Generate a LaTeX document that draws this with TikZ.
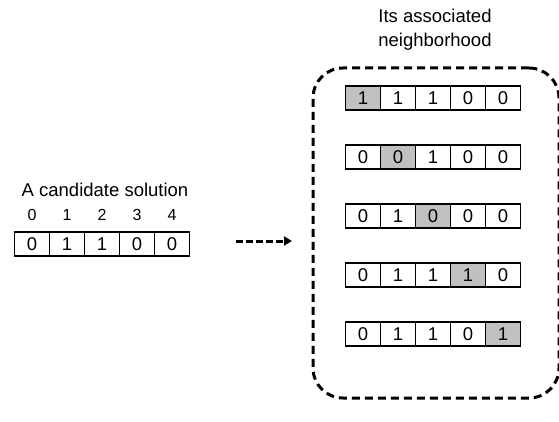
\documentclass[tikz,border=0pt]{standalone}
\usepackage{fontspec}
\setmainfont{Liberation Sans}
\usetikzlibrary{arrows.meta}
\definecolor{hl}{HTML}{C0C0C0}
\tikzset{
  cell/.style={draw, line width=1.8pt, minimum width=35pt, minimum height=24pt, inner sep=0pt, font=\fontsize{18.5}{20}\selectfont},
  hcell/.style={cell, fill=hl},
  label/.style={font=\fontsize{18.5}{24}\selectfont, align=center, inner sep=0pt},
  idx/.style={font=\fontsize{16}{18}\selectfont, inner sep=0pt},
  dashline/.style={line width=3pt, dash pattern=on 8pt off 5pt},
  arrline/.style={line width=3pt, dash pattern=on 6.5pt off 3.5pt},
}
\begin{document}
\begin{tikzpicture}[x=1pt,y=-1pt]
\useasboundingbox (0,0) rectangle (559,422);
% left candidate
\node[label] (cand) at (105,190) {A candidate solution};
\foreach \v [count=\i from 0] in {0,1,1,0,0} {
  \node[cell] (L\i) at (32+35*\i,244) {\v};
  \node[idx] (I\i) at (32+35*\i,215) {\i};
}
% right neighborhood
\node[label] (title) at (435,30) {Its associated\\neighborhood};
\node[draw, dashline, rounded corners=30pt, minimum width=246pt, minimum height=330pt, inner sep=0pt] (nbhd) at (436,233) {};
\foreach \r/\bits/\h in {0/{1,1,1,0,0}/0, 1/{0,0,1,0,0}/1, 2/{0,1,0,0,0}/2, 3/{0,1,1,1,0}/3, 4/{0,1,1,0,1}/4} {
  \foreach \v [count=\c from 0] in \bits {
    \ifnum\c=\h
      \node[hcell] (R\r\c) at (363+35*\c,98+59*\r) {\v};
    \else
      \node[cell] (R\r\c) at (363+35*\c,98+59*\r) {\v};
    \fi
  }
}
% arrow
\coordinate (aS) at (236,241);
\coordinate (aE) at (292,241);
\draw[arrline, -{Triangle[length=8pt,width=9pt]}] (aS) -- (aE);
\end{tikzpicture}
\end{document}
